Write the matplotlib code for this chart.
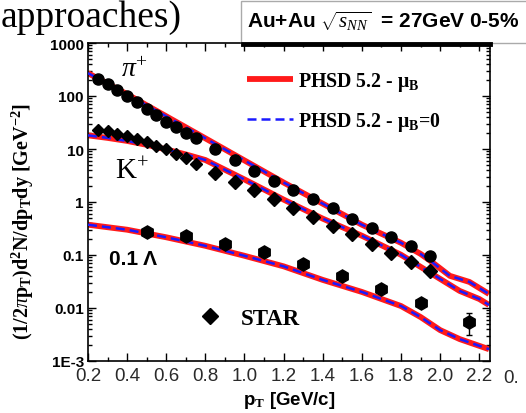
import numpy as np
import matplotlib
matplotlib.use("Agg")
import matplotlib.pyplot as plt
from matplotlib.lines import Line2D
from matplotlib.patches import Rectangle
from matplotlib.ticker import FixedLocator, LogLocator, NullFormatter, FixedFormatter

# ---------------- data ----------------
pion_pt = [0.25, 0.30, 0.35, 0.40, 0.45, 0.50, 0.55, 0.60, 0.65, 0.70, 0.75,
           0.85, 0.95, 1.05, 1.15, 1.25, 1.35, 1.45, 1.55, 1.65, 1.75, 1.85, 1.95]
pion_y = [210, 165, 130, 100, 78, 58, 43, 33, 26, 20, 16,
          10, 6.1, 3.9, 2.5, 1.72, 1.16, 0.78, 0.48, 0.33, 0.22, 0.146, 0.097]

kaon_pt = [0.25, 0.30, 0.35, 0.40, 0.45, 0.50, 0.55, 0.60, 0.65, 0.70, 0.75,
           0.85, 0.95, 1.05, 1.15, 1.25, 1.35, 1.45, 1.55, 1.65, 1.75, 1.85, 1.95]
kaon_y = [23, 21.5, 19.5, 17.5, 15.5, 13.5, 11.5, 10, 8.2, 6.8, 5.2,
          3.6, 2.43, 1.72, 1.16, 0.78, 0.53, 0.35, 0.247, 0.163, 0.110, 0.073, 0.050]

lam_pt = [0.5, 0.7, 0.9, 1.1, 1.3, 1.5, 1.7, 1.9, 2.15]
lam_y = [0.272, 0.228, 0.163, 0.1135, 0.068, 0.040, 0.0229, 0.0122, 0.0055]
lam_err = [0.01, 0.008, 0.006, 0.004, 0.003, 0.002, 0.0012, 0.0012, 0.0024]

# PHSD 5.2 model curves
pion_model_pt = [0.2, 0.4, 0.6, 0.8, 1.0, 1.2, 1.4, 1.6, 1.8, 1.9, 1.95, 2.05, 2.1, 2.15, 2.25]
pion_model_y = [270, 108, 41.4, 15.9, 6.08, 2.33, 0.93, 0.373, 0.170, 0.105, 0.0776, 0.0404, 0.0354, 0.0310, 0.0184]

kaon_model_pt = [0.2, 0.3, 0.4, 0.5, 0.6, 0.7, 0.8, 1.0, 1.2, 1.4, 1.6, 1.8, 1.9, 2.0, 2.1, 2.2, 2.25]
kaon_model_y = [18.1, 16.2, 14.2, 12.0, 9.8, 7.9, 6.2, 2.66, 1.11, 0.485, 0.231, 0.101, 0.0598, 0.0354, 0.0210, 0.0148, 0.0114]

lam_model_pt = [0.2, 0.4, 0.6, 0.8, 1.0, 1.2, 1.4, 1.6, 1.8, 1.9, 2.0, 2.1, 2.25]
lam_model_y = [0.373, 0.300, 0.216, 0.149, 0.0966, 0.0611, 0.0339, 0.0201, 0.0109, 0.00676, 0.00383, 0.00259, 0.00167]

x_ticks = [0.2, 0.4, 0.6, 0.8, 1.0, 1.2, 1.4, 1.6, 1.8, 2.0, 2.2]
x_ticklabels = ["0.2", "0.4", "0.6", "0.8", "1.0", "1.2", "1.4", "1.6", "1.8", "2.0", "2.2"]
y_ticks = [1e-3, 1e-2, 1e-1, 1, 10, 100, 1000]
y_ticklabels = ["1E-3", "0.01", "0.1", "1", "10", "100", "1000"]

# ---------------- figure ----------------
plt.rcParams['mathtext.fontset'] = 'custom'
plt.rcParams['mathtext.rm'] = 'Liberation Serif'
plt.rcParams['mathtext.it'] = 'Liberation Serif:italic'
plt.rcParams['mathtext.bf'] = 'Liberation Serif:bold'

W, H = 526, 414
fig = plt.figure(figsize=(W / 100, H / 100), dpi=100)
ax = fig.add_axes([88 / W, 1 - 362 / H, (490 - 88) / W, (362 - 44) / H])

red_kw = dict(color='#ff1a1a', lw=4.2, solid_capstyle='butt', solid_joinstyle='round', zorder=2)
blue_kw = dict(color='#1a1aff', lw=1.8, ls=(0, (3.6, 2.0)), zorder=3)

for mx, my in [(pion_model_pt, pion_model_y), (kaon_model_pt, kaon_model_y), (lam_model_pt, lam_model_y)]:
    ax.plot(mx, my, **red_kw)
    ax.plot(mx, my, **blue_kw)

ax.plot(pion_pt, pion_y, 'o', color='black', ms=8, zorder=4)
ax.plot(kaon_pt[:11], kaon_y[:11], 'D', color='black', ms=6, zorder=4)
ax.plot(kaon_pt[11:], kaon_y[11:], 'D', color='black', ms=7.5, zorder=4)
ax.errorbar(lam_pt, lam_y, yerr=lam_err, fmt='h', color='black', ms=9.5, elinewidth=1, capsize=2.5, zorder=4)

ax.set_yscale('log')
ax.set_xlim(0.2, 2.255)
ax.set_ylim(1e-3, 1e3)

ax.xaxis.set_major_locator(FixedLocator(x_ticks))
ax.xaxis.set_major_formatter(FixedFormatter(x_ticklabels))
ax.xaxis.set_minor_locator(FixedLocator([0.3 + 0.2 * i for i in range(10)]))
ax.yaxis.set_major_locator(FixedLocator(y_ticks))
ax.yaxis.set_major_formatter(FixedFormatter(y_ticklabels))
ax.yaxis.set_minor_locator(LogLocator(base=10, subs=np.arange(2, 10), numticks=20))
ax.yaxis.set_minor_formatter(NullFormatter())

ax.tick_params(which='both', direction='in', top=True, right=True, width=1)
ax.tick_params(which='major', length=6)
ax.tick_params(which='minor', length=3)
ax.tick_params(axis='x', labelsize=13.5, labelcolor='#2a2a2a', pad=4)
for lab in ax.get_xticklabels():
    lab.set_family('Liberation Sans')
ax.tick_params(axis='y', labelsize=11, pad=3)
for lab in ax.get_yticklabels():
    lab.set_family('Liberation Sans')
    lab.set_fontweight('bold')
for s in ax.spines.values():
    s.set_linewidth(1.2)

ax.set_xlabel(r"p$_\mathbf{T}$ [GeV/c]", fontsize=13.5, fontweight='bold', family='Liberation Sans')
ax.xaxis.set_label_coords((289 - 88) / 402, -(390 - 362) / 318)
ax.set_ylabel(r"(1/2$\pi$p$_\mathbf{T}$)d$^\mathbf{2}$N/dp$_\mathbf{T}$dy [GeV$^\mathbf{-2}$]",
              fontsize=14.5, fontweight='bold', family='Liberation Serif')
ax.yaxis.set_label_coords((36 - 88) / 402, (362 - 221) / 318)

# annotations
ax.text(0.369, 340, r"$\pi^{+}$", fontsize=20, ha='left', va='center')
ax.text(0.338, 3.9, r"K$^{+}$", fontsize=21, ha='left', va='center', family='Liberation Serif')
ax.text(0.305, 0.0848, "0.1 Λ", fontsize=15, fontweight='bold', family='Liberation Sans', va='center')

# legends
h1 = Line2D([], [], **{k: v for k, v in red_kw.items() if k != 'zorder'})
h2 = Line2D([], [], **{k: v for k, v in blue_kw.items() if k != 'zorder'})
leg1 = ax.legend([h1, h2], [r"PHSD 5.2 - $\mathbf{\mu_B}$", r"PHSD 5.2 - $\mathbf{\mu_B}$=0"],
                 loc='upper left', bbox_to_anchor=((231 - 88) / 402, 1 - (55 - 44) / 318),
                 frameon=False, handlelength=2.3, handletextpad=0.25, labelspacing=0.85,
                 borderpad=0.3, prop={'family': 'Liberation Serif', 'weight': 'bold', 'size': 14.3})
ax.add_artist(leg1)
h3 = Line2D([], [], ls='none', marker='D', color='black', ms=8)
ax.legend([h3], ["STAR"], loc='upper left', bbox_to_anchor=((178 - 88) / 402, 1 - (291 - 44) / 318),
          frameon=False, handlelength=1.2, handletextpad=0.75, borderpad=0.3,
          prop={'family': 'Liberation Serif', 'weight': 'bold', 'size': 16.5})

# header box
fig.add_artist(Rectangle((241 / W, 1 - 44 / H), (W - 241 + 5) / W, 42 / H, transform=fig.transFigure,
                         facecolor='white', edgecolor='#aaaaaa', lw=1, zorder=5))
fig.add_artist(Line2D([243 / W, 490 / W], [1 - 44.5 / H, 1 - 44.5 / H], transform=fig.transFigure,
                      color='black', lw=3.5, zorder=6))
fig.text(247 / W, 1 - 21 / H, r"Au+Au $\sqrt{s_{NN}}$  = 27GeV 0-5%", fontsize=15, fontweight='bold',
         family='Liberation Sans', va='center', ha='left', zorder=7)
fig.text(1 / W, 1 - 27 / H, "approaches)", fontsize=27, family='Liberation Serif', va='baseline', ha='left')
fig.text(503 / W, 1 - 379 / H, "0.", fontsize=13.5, color='#2a2a2a', family='Liberation Sans', va='center')

fig.savefig("out.png", dpi=100)
